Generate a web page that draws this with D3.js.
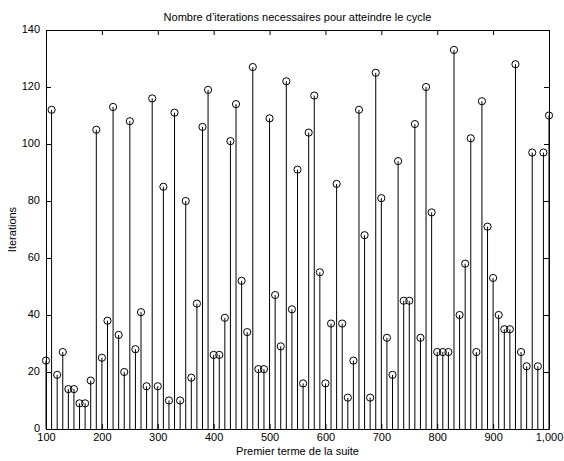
<!DOCTYPE html>
<html><head><meta charset="utf-8">
<script src="https://cdn.jsdelivr.net/npm/d3@7"></script>
<style>
html,body{margin:0;padding:0;background:#fff;}
text{font-family:"Liberation Sans",Arial,Helvetica,sans-serif;fill:#000;}
</style></head>
<body>
<svg id="chart" width="564" height="461"></svg>
<script>
const startTerms = d3.range(100, 1001, 10);
const iterations = [24,112,19,27,14,14,9,9,17,105,
  25,38,113,33,20,108,28,41,15,116,
  15,85,10,111,10,80,18,44,106,119,
  26,26,39,101,114,52,34,127,21,21,
  109,47,29,122,42,91,16,104,117,55,
  16,37,86,37,11,24,112,68,11,125,
  81,32,19,94,45,45,107,32,120,76,
  27,27,27,133,40,58,102,27,115,71,
  53,40,35,35,128,27,22,97,22,97,110];
const xTicks = [100,200,300,400,500,600,700,800,900,1000];
const yTicks = [0,20,40,60,80,100,120,140];
const title = "Nombre d’iterations necessaires pour atteindre le cycle";
const xLabel = "Premier terme de la suite";
const yLabel = "Iterations";

const data = startTerms.map((t,i)=>({t, v: iterations[i]}));
const svg = d3.select("#chart");
const L=46, R=549, T=30, B=429;
const x = d3.scaleLinear().domain([100,1000]).range([L,R]);
const y = d3.scaleLinear().domain([0,140]).range([B,T]);

// stems
svg.append("g").selectAll("line").data(data).join("line")
  .attr("x1",d=>x(d.t)).attr("x2",d=>x(d.t))
  .attr("y1",y(0)).attr("y2",d=>y(d.v))
  .attr("stroke","#000").attr("stroke-width",1);
// markers
svg.append("g").selectAll("circle").data(data).join("circle")
  .attr("cx",d=>x(d.t)).attr("cy",d=>y(d.v)).attr("r",3.6)
  .attr("fill","none").attr("stroke","#000").attr("stroke-width",1);

// axes
const fs = 11;
const xb = d3.axisBottom(x).tickValues(xTicks).tickSizeInner(-5).tickSizeOuter(0).tickPadding(8);
const gx = svg.append("g").attr("transform",`translate(0,${B})`).call(xb);
const xt = d3.axisTop(x).tickValues(xTicks).tickSizeInner(-5).tickSizeOuter(0).tickFormat("");
const gxt = svg.append("g").attr("transform",`translate(0,${T})`).call(xt);
const yl = d3.axisLeft(y).tickValues(yTicks).tickSizeInner(-5).tickSizeOuter(0).tickPadding(8);
const gy = svg.append("g").attr("transform",`translate(${L},0)`).call(yl);
const yr = d3.axisRight(y).tickValues(yTicks).tickSizeInner(-5).tickSizeOuter(0).tickFormat("");
const gyr = svg.append("g").attr("transform",`translate(${R},0)`).call(yr);
[gx,gxt,gy,gyr].forEach(g=>{
  g.selectAll("text").attr("font-size",fs).attr("font-family",'"Liberation Sans",Arial,sans-serif').attr("fill","#000");
  g.selectAll("line").attr("stroke","#000");
  g.select(".domain").attr("stroke","#000");
});
gx.selectAll("text").attr("dy","0.71em").attr("y",4);
gy.selectAll("text").attr("x",-6).attr("dy","0.25em");

// title & labels
svg.append("text").attr("x",(L+R)/2).attr("y",21).attr("text-anchor","middle").attr("font-size",fs).text(title);
svg.append("text").attr("x",(L+R)/2).attr("y",455).attr("text-anchor","middle").attr("font-size",fs).text(xLabel);
svg.append("text").attr("transform",`translate(16,${(T+B)/2}) rotate(-90)`).attr("text-anchor","middle").attr("font-size",fs).text(yLabel);
</script>
</body></html>
